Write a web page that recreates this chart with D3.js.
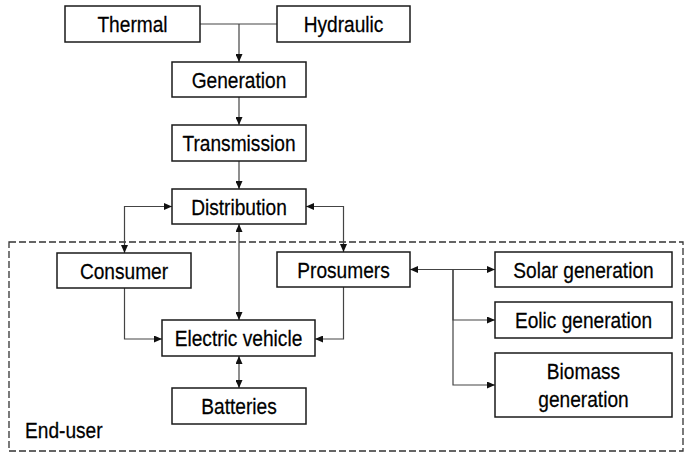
<!DOCTYPE html>
<html>
<head>
<meta charset="utf-8">
<script src="https://cdn.jsdelivr.net/npm/d3@7"></script>
<style>
  body { margin: 0; background: #fff; }
  svg { display: block; }
</style>
</head>
<body>
<svg id="chart"></svg>
<script>
// Node labels (one entry per box, multi-line labels split on '\n')
const nodeIds = ['thermal', 'hydraulic', 'generation', 'transmission', 'distribution',
                 'consumer', 'prosumers', 'ev', 'batteries', 'solar', 'eolic', 'biomass'];
const nodeLabels = ['Thermal', 'Hydraulic', 'Generation', 'Transmission', 'Distribution',
                    'Consumer', 'Prosumers', 'Electric vehicle', 'Batteries',
                    'Solar generation', 'Eolic generation', 'Biomass\ngeneration'];
const groupLabel = 'End-user';

// Connections: [from, to, arrow at start, arrow at end]
const links = [
  ['generation', 'transmission', false, true],
  ['transmission', 'distribution', false, true],
  ['distribution', 'consumer', true, true],
  ['distribution', 'prosumers', true, true],
  ['distribution', 'ev', true, true],
  ['consumer', 'ev', false, true],
  ['prosumers', 'ev', false, true],
  ['ev', 'batteries', true, true],
  ['prosumers', 'solar', true, true],
  ['prosumers', 'eolic', false, true],
  ['prosumers', 'biomass', false, true]
];

// ---- layout (pixel boxes) ----
const W = 684, H = 453;
const box = {
  thermal:      [65, 6, 200, 42],
  hydraulic:    [277, 6, 410, 42],
  generation:   [172, 62, 306, 97],
  transmission: [172, 125, 306, 161],
  distribution: [172, 189, 306, 224],
  consumer:     [57, 253, 191, 288],
  prosumers:    [277, 252, 410, 287],
  ev:           [162, 320, 315, 356],
  batteries:    [172, 388, 306, 424],
  solar:        [495, 252, 672, 287],
  eolic:        [495, 302, 672, 338],
  biomass:      [495, 353, 672, 417]
};
const cx = id => (box[id][0] + box[id][2]) / 2;
const cy = id => (box[id][1] + box[id][3]) / 2;
const busX = 453;      // branch bus to renewable sources
const sideY = 339;     // join level into electric vehicle
const textScale = 0.87;

function route(a, b) {
  const A = box[a], B = box[b];
  if (a === 'distribution' && b === 'consumer')
    return [[A[0], cy(a)], [cx(b) + 0.5, cy(a)], [cx(b) + 0.5, B[1]]].reverse();
  if (a === 'distribution' && b === 'prosumers')
    return [[A[2], cy(a)], [cx(b), cy(a)], [cx(b), B[1]]].reverse();
  if (a === 'consumer' && b === 'ev')
    return [[cx(a) + 0.5, A[3]], [cx(a) + 0.5, sideY], [B[0], sideY]];
  if (a === 'prosumers' && b === 'ev')
    return [[cx(a), A[3]], [cx(a), sideY], [B[2], sideY]];
  if (a === 'prosumers' && b === 'solar')
    return [[A[2], cy(b)], [B[0], cy(b)]];
  if (a === 'prosumers')
    return [[busX, cy('solar')], [busX, cy(b)], [B[0], cy(b)]];
  return [[239, A[3]], [239, B[1]]];
}

const svg = d3.select('#chart').attr('width', W).attr('height', H);

const defs = svg.append('defs');
defs.append('marker').attr('id', 'arr')
  .attr('viewBox', '0 0 8 7').attr('refX', 8).attr('refY', 3.5)
  .attr('markerWidth', 8).attr('markerHeight', 7)
  .attr('markerUnits', 'userSpaceOnUse').attr('orient', 'auto-start-reverse')
  .append('path').attr('d', 'M0,0 L8,3.5 L0,7 Z').attr('fill', '#111');

// End-user dashed area
svg.append('rect')
  .attr('x', 9).attr('y', 242).attr('width', 674).attr('height', 209)
  .attr('fill', 'none').attr('stroke', '#333').attr('stroke-width', 1.3)
  .attr('stroke-dasharray', '7,3');

svg.append('g')
  .attr('transform', `translate(25,438) scale(${textScale},1)`)
  .append('text').text(groupLabel)
  .attr('font-family', 'Liberation Sans, Arial, sans-serif')
  .attr('font-size', 22).attr('fill', '#000')
  .attr('stroke', '#000').attr('stroke-width', 0.25);

// Thermal / Hydraulic merge into generation
const line = d3.line();
svg.append('path')
  .attr('d', line([[box.thermal[2], cy('thermal')], [box.hydraulic[0], cy('hydraulic')]]))
  .attr('fill', 'none').attr('stroke', '#444').attr('stroke-width', 1.2);
svg.append('path')
  .attr('d', line([[239, cy('thermal')], [239, box.generation[1]]]))
  .attr('fill', 'none').attr('stroke', '#444').attr('stroke-width', 1.2)
  .attr('marker-end', 'url(#arr)');

// Connectors
svg.append('g').selectAll('path')
  .data(links)
  .join('path')
  .attr('d', d => line(route(d[0], d[1])))
  .attr('fill', 'none').attr('stroke', '#444').attr('stroke-width', 1.2)
  .attr('marker-start', d => d[2] ? 'url(#arr)' : null)
  .attr('marker-end', d => d[3] ? 'url(#arr)' : null);

// Boxes
const nodes = svg.append('g').selectAll('g')
  .data(nodeIds.map((id, i) => ({id, label: nodeLabels[i]})))
  .join('g');

nodes.append('rect')
  .attr('x', d => box[d.id][0]).attr('y', d => box[d.id][1])
  .attr('width', d => box[d.id][2] - box[d.id][0])
  .attr('height', d => box[d.id][3] - box[d.id][1])
  .attr('fill', '#fff').attr('stroke', '#1a1a1a').attr('stroke-width', 1.5);

nodes.each(function (d) {
  const lines = d.label.split('\n');
  const g = d3.select(this).append('g')
    .attr('transform', `translate(${cx(d.id)},${cy(d.id) + 8}) scale(${textScale},1)`);
  lines.forEach((t, i) => {
    g.append('text')
      .attr('y', (i - (lines.length - 1) / 2) * 28)
      .attr('text-anchor', 'middle')
      .attr('font-family', 'Liberation Sans, Arial, sans-serif')
      .attr('font-size', 22).attr('fill', '#000')
      .attr('stroke', '#000').attr('stroke-width', 0.25)
      .text(t);
  });
});
</script>
</body>
</html>
